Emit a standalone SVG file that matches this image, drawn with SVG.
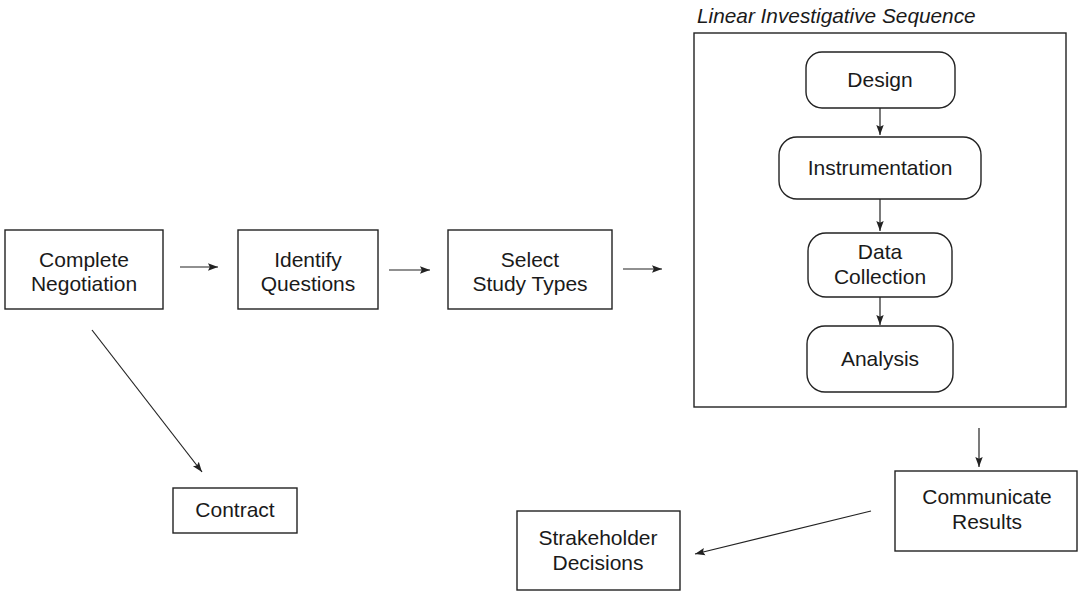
<svg xmlns="http://www.w3.org/2000/svg" width="1078" height="592" viewBox="0 0 1078 592">
<style>
.box{fill:#fff;stroke:#222;stroke-width:1.4}
.t{font-family:"Liberation Sans",Arial,sans-serif;font-size:21px;fill:#1a1a1a;text-anchor:middle}
.ti{font-family:"Liberation Sans",Arial,sans-serif;font-size:20.8px;font-style:italic;fill:#1a1a1a}
.c{stroke:#222;stroke-width:1.2;fill:none;marker-end:url(#ah)}
</style>
<defs>
<marker id="ah" markerUnits="userSpaceOnUse" markerWidth="12" markerHeight="10" refX="10" refY="5" orient="auto">
<path d="M0,1.3 L10,5 L0,8.7 L1.8,5 Z" fill="#222"/>
</marker>
</defs>
<rect width="1078" height="592" fill="#fff"/>
<g id="group-lis">
<text class="ti" x="697" y="23">Linear Investigative Sequence</text>
<rect class="box" x="694" y="33" width="372" height="374"/>
</g>
<g id="node-complete"><rect class="box" x="5" y="230" width="158" height="79"/><text class="t" x="84" y="267">Complete</text><text class="t" x="84" y="291">Negotiation</text></g>
<g id="node-identify"><rect class="box" x="238" y="230" width="140" height="79"/><text class="t" x="308" y="267">Identify</text><text class="t" x="308" y="291">Questions</text></g>
<g id="node-select"><rect class="box" x="448" y="230" width="164" height="79"/><text class="t" x="530" y="267">Select</text><text class="t" x="530" y="291">Study Types</text></g>
<g id="node-design"><rect class="box" x="806" y="52" width="149" height="56" rx="16"/><text class="t" x="880" y="87">Design</text></g>
<g id="node-instrumentation"><rect class="box" x="779" y="137" width="202" height="62" rx="18"/><text class="t" x="880" y="175">Instrumentation</text></g>
<g id="node-data"><rect class="box" x="808" y="233" width="144" height="64" rx="18"/><text class="t" x="880" y="259">Data</text><text class="t" x="880" y="284">Collection</text></g>
<g id="node-analysis"><rect class="box" x="807" y="326" width="146" height="66" rx="18"/><text class="t" x="880" y="366">Analysis</text></g>
<g id="node-contract"><rect class="box" x="173" y="488" width="124" height="45"/><text class="t" x="235" y="517">Contract</text></g>
<g id="node-communicate"><rect class="box" x="895" y="471" width="182" height="80"/><text class="t" x="987" y="504">Communicate</text><text class="t" x="987" y="529">Results</text></g>
<g id="node-stakeholder"><rect class="box" x="517" y="511" width="163" height="79"/><text class="t" x="598" y="545">Strakeholder</text><text class="t" x="598" y="570">Decisions</text></g>
<g id="connectors">
<line class="c" x1="180" y1="267" x2="218" y2="267"/>
<line class="c" x1="389" y1="270" x2="430" y2="270"/>
<line class="c" x1="623" y1="269" x2="662" y2="269"/>
<line class="c" x1="880" y1="108" x2="880" y2="135"/>
<line class="c" x1="880" y1="199" x2="880" y2="231"/>
<line class="c" x1="880" y1="297" x2="880" y2="325"/>
<line class="c" x1="979" y1="428" x2="979" y2="467"/>
<line class="c" x1="92" y1="330" x2="202" y2="472"/>
<line class="c" x1="871" y1="511" x2="695" y2="554"/>
</g>
</svg>
